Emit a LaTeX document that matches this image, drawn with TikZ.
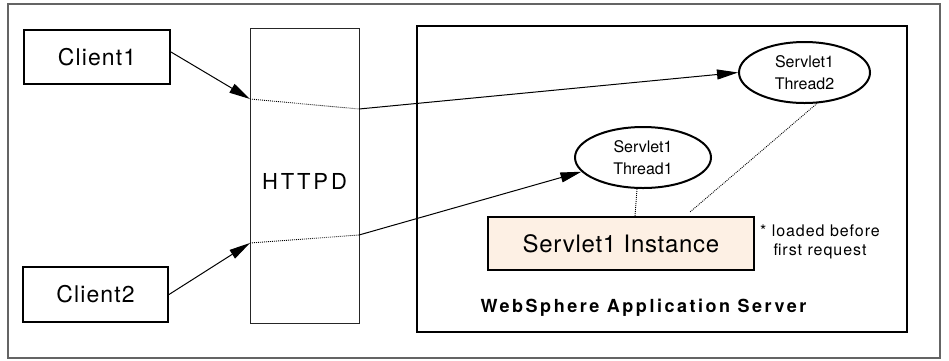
\documentclass[tikz,border=0pt]{standalone}
\usepackage{fontspec}
\setmainfont{TeX Gyre Heros}
\usetikzlibrary{arrows.meta,shapes.geometric,calc}
\definecolor{instfill}{RGB}{253,240,228}
\definecolor{framegray}{RGB}{100,100,100}
\tikzset{
  thickbox/.style={draw=black, line width=2pt, rectangle, inner sep=0pt},
  thinbox/.style={draw=black!85, line width=1pt, rectangle, inner sep=0pt},
  threadnode/.style={draw=black, line width=2pt, ellipse, inner sep=0pt, align=center,
     font=\fontsize{16}{22}\selectfont},
  arr/.style={line width=1pt, -{Triangle[length=21pt,width=10pt]}},
  plainline/.style={line width=1pt},
  dotline/.style={line width=0.9pt, dash pattern=on 0.9pt off 1.1pt},
}
\begin{document}
\begin{tikzpicture}[x=1pt,y=-1pt]
\useasboundingbox (0,0) rectangle (949,360);
% outer frame
\draw[framegray, line width=1.2pt] (8,4) rectangle (940,358);
% clients
\node[thickbox, minimum width=146pt, minimum height=54pt,
  font=\fontsize{23}{26}\addfontfeatures{LetterSpace=5}\selectfont] (c1) at (97,57) {Client1};
\node[thickbox, minimum width=145pt, minimum height=55pt,
  font=\fontsize{23}{26}\addfontfeatures{LetterSpace=5}\selectfont] (c2) at (95.5,294.5) {Client2};
% HTTPD
\node[thinbox, minimum width=109pt, minimum height=295pt] (httpd) at (304.5,175.5) {};
\node[font=\fontsize{22}{26}\addfontfeatures{LetterSpace=13}\selectfont] (httpdtxt) at (304.5,181) {HTTPD};
% WAS
\node[thickbox, minimum width=490pt, minimum height=306pt] (was) at (662,179) {};
\node[font=\bfseries\fontsize{18}{22}\addfontfeatures{LetterSpace=14}\selectfont] (waslabel) at (643.5,308) {WebSphere Application Server};
% threads
\node[threadnode, minimum width=131pt, minimum height=61pt] (t2) at (804.5,72.5) {Servlet1\\Thread2};
\node[threadnode, minimum width=136pt, minimum height=61pt] (t1) at (643,157.5) {Servlet1\\Thread1};
% instance
\node[thickbox, fill=instfill, minimum width=266pt, minimum height=53pt,
  font=\fontsize{24}{28}\addfontfeatures{LetterSpace=3}\selectfont] (inst) at (621,243.5) {Servlet1 Instance};
\node[align=center, inner sep=0pt, font=\fontsize{16}{19}\addfontfeatures{LetterSpace=6}\selectfont] (note) at (820,242) {* loaded before\\first request};
% pass-through points
\coordinate (h1in) at (250,99);
\coordinate (h1out) at (359,109);
\coordinate (h2in) at (250,243);
\coordinate (h2out) at (359,235);
\coordinate (t2end) at (690,212);
% connectors
\draw[arr] ([yshift=5pt]c1.east) -- (h1in);
\draw[dotline] (h1in) -- (h1out);
\draw[arr] (h1out) -- (t2.west);
\draw[arr] (c2.east) -- (h2in);
\draw[dotline] (h2in) -- (h2out);
\draw[arr] (h2out) -- (t1.193);
\draw[dotline] ($(t1.south)+(-6,0)$) -- ($(inst.north)+(14,0)$);
\draw[dotline] (t2.292) -- (t2end);
\end{tikzpicture}
\end{document}
